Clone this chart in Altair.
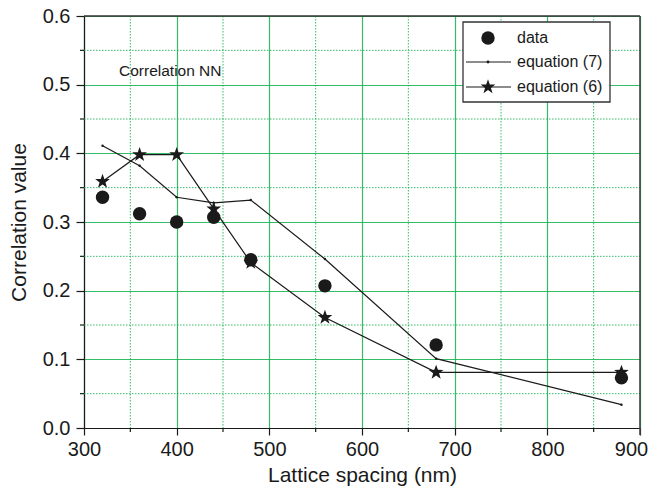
import altair as alt
import pandas as pd

# ---- data ----
spacing = [320, 360, 400, 440, 480, 560, 680, 880]
data_vals = [0.336, 0.312, 0.300, 0.307, 0.245, 0.207, 0.121, 0.073]
eq7_vals = [0.411, 0.382, 0.336, 0.328, 0.332, 0.246, 0.101, 0.034]
eq6_vals = [0.359, 0.398, 0.398, 0.319, 0.241, 0.161, 0.081, 0.081]

x_ticks = [300, 400, 500, 600, 700, 800, 900]
y_ticks = [0.0, 0.1, 0.2, 0.3, 0.4, 0.5, 0.6]
x_minor = [350, 450, 550, 650, 750, 850]
y_minor = [0.05, 0.15, 0.25, 0.35, 0.45, 0.55]

legend_labels = ["data", "equation (7)", "equation (6)"]
annotation = "Correlation NN"

df = pd.DataFrame({"spacing": spacing, "data": data_vals, "eq7": eq7_vals, "eq6": eq6_vals})
dfx = pd.DataFrame({"xm": x_minor})
dfy = pd.DataFrame({"ym": y_minor})
one = pd.DataFrame({"k": [0]})

FONT = "Liberation Sans"
GREEN = "#12b04f"
INK = "#1a1a1a"
W, H = 556, 412
STAR = ("M0,-1L0.235,-0.324L0.951,-0.309L0.38,0.124L0.588,0.809L0,0.4"
        "L-0.588,0.809L-0.38,0.124L-0.951,-0.309L-0.235,-0.324Z")

x_axis = alt.Axis(
    values=x_ticks, title="Lattice spacing (nm)", format="d", labelFlush=False,
    labelOffset={"condition": {"test": "datum.value >= 900", "value": -9}, "value": 0},
    tickSize=7, grid=True, gridColor=GREEN, gridWidth=1.2, gridOpacity=0.85,
    labelPadding=4, titlePadding=5,
)
y_axis = alt.Axis(
    values=y_ticks, title="Correlation value", format=".1f", labelFlush=False,
    tickSize=8, grid=True, gridColor=GREEN, gridWidth=1.2, gridOpacity=0.85,
    labelPadding=6, titlePadding=13,
)

xs = alt.Scale(domain=[300, 900], nice=False, zero=False)
ys = alt.Scale(domain=[0, 0.6], nice=False)
X = alt.X("spacing:Q", scale=xs, axis=x_axis)

# minor grid + minor ticks
minor_xg = alt.Chart(dfx).mark_rule(color=GREEN, strokeWidth=1, strokeDash=[1.5, 1.5], opacity=0.85).encode(
    x=alt.X("xm:Q", scale=xs, axis=x_axis), y=alt.value(0), y2=alt.value(H))
minor_xt = alt.Chart(dfx).mark_rule(color=INK, strokeWidth=1.2).encode(
    x=alt.X("xm:Q", scale=xs, axis=x_axis), y=alt.value(H), y2=alt.value(H + 4))
minor_yg = alt.Chart(dfy).mark_rule(color=GREEN, strokeWidth=1, strokeDash=[1.5, 1.5], opacity=0.85).encode(
    y=alt.Y("ym:Q", scale=ys, axis=y_axis), x=alt.value(0), x2=alt.value(W))
minor_yt = alt.Chart(dfy).mark_rule(color=INK, strokeWidth=1.2).encode(
    y=alt.Y("ym:Q", scale=ys, axis=y_axis), x=alt.value(-4), x2=alt.value(0))

base = alt.Chart(df)
eq7_line = base.mark_line(color=INK, strokeWidth=1.2).encode(
    x=X, y=alt.Y("eq7:Q", scale=ys, axis=y_axis))
eq7_pts = base.mark_point(filled=True, color=INK, size=6, opacity=1).encode(
    x=X, y=alt.Y("eq7:Q", scale=ys, axis=y_axis))
eq6_line = base.mark_line(color=INK, strokeWidth=1.2).encode(
    x=X, y=alt.Y("eq6:Q", scale=ys, axis=y_axis))
eq6_pts = base.mark_point(shape=STAR, filled=True, color=INK, size=240, opacity=1).encode(
    x=X, y=alt.Y("eq6:Q", scale=ys, axis=y_axis))
data_pts = base.mark_point(shape="circle", filled=True, color=INK, size=180, opacity=1).encode(
    x=X, y=alt.Y("data:Q", scale=ys, axis=y_axis))

frame_top = alt.Chart(one).mark_rule(color="#333333", strokeWidth=1.3).encode(
    x=alt.value(0), x2=alt.value(W), y=alt.value(0))
frame_right = alt.Chart(one).mark_rule(color="#444444", strokeWidth=1.6).encode(
    x=alt.value(W), y=alt.value(0), y2=alt.value(H + 7))

note = alt.Chart(one).mark_text(
    text=annotation, font=FONT, fontSize=15.5, color=INK, align="left", baseline="middle"
).encode(x=alt.value(35), y=alt.value(55))

# ---- legend ----
box = alt.Chart(one).mark_rect(fill="white", stroke="#333333", strokeWidth=1.3).encode(
    x=alt.value(379), x2=alt.value(526), y=alt.value(6), y2=alt.value(86))
rows = [22, 46, 71]
leg = [box]
leg.append(alt.Chart(one).mark_point(shape="circle", filled=True, color=INK, size=180, opacity=1).encode(
    x=alt.value(404), y=alt.value(rows[0])))
leg.append(alt.Chart(one).mark_rule(color=INK, strokeWidth=1.2).encode(
    x=alt.value(382), x2=alt.value(427), y=alt.value(rows[1])))
leg.append(alt.Chart(one).mark_point(shape="circle", filled=True, color=INK, size=8, opacity=1).encode(
    x=alt.value(404), y=alt.value(rows[1])))
leg.append(alt.Chart(one).mark_rule(color=INK, strokeWidth=1.2).encode(
    x=alt.value(382), x2=alt.value(427), y=alt.value(rows[2])))
leg.append(alt.Chart(one).mark_point(shape=STAR, filled=True, color=INK, size=240, opacity=1).encode(
    x=alt.value(404), y=alt.value(rows[2])))
for lab, r in zip(legend_labels, rows):
    leg.append(alt.Chart(one).mark_text(
        text=lab, font=FONT, fontSize=16, color=INK, align="left", baseline="middle"
    ).encode(x=alt.value(433), y=alt.value(r)))

chart = alt.layer(
    minor_xg, minor_yg, minor_xt, minor_yt,
    eq7_line, eq7_pts, eq6_line, eq6_pts, data_pts, frame_top, frame_right, note, *leg
).properties(
    width=W, height=H,
    autosize=alt.AutoSizeParams(type="none"),
    padding={"left": 76, "top": 8, "right": 9, "bottom": 60},
).configure_view(
    stroke=None
).configure_axis(
    labelFont=FONT, titleFont=FONT, labelFontSize=20, titleFontSize=21,
    labelColor=INK, titleColor=INK, titleFontWeight="normal",
    domainColor=INK, tickColor=INK, domainWidth=1.2, tickWidth=1.2,
)

chart.save("out.html", embed_options={"renderer": "svg", "actions": False})
